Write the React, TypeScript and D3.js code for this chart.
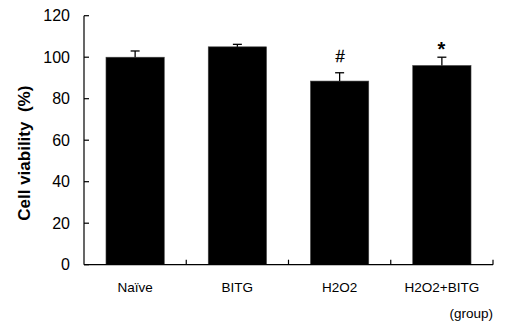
import React from "react";
import * as d3 from "d3";

const categories = ["Naïve", "BITG", "H2O2", "H2O2+BITG"];
const values = [100, 105, 88.5, 96];
const errors = [3, 1.2, 4, 4];
const marks = ["", "", "#", "*"];
const yTicks = [0, 20, 40, 60, 80, 100, 120];

const W = 512, H = 326;
const x0 = 84, x1 = 493, yTop = 15.7, yBot = 264.7;

export default function App() {
  const x = d3.scaleBand<string>().domain(categories).range([x0, x1]).paddingInner(0.43).paddingOuter(0.215);
  const bands = d3.scaleBand<string>().domain(categories).range([x0, x1]);
  const y = d3.scaleLinear().domain([0, 120]).range([yBot, yTop]);
  const font = "Arial, 'Liberation Sans', sans-serif";
  return (
    <svg width={W} height={H} style={{ position: "absolute", left: 0, top: 0, background: "#fff" }} fontFamily={font}>
      {categories.map((c, i) => {
        const bx = x(c)!;
        const bw = x.bandwidth();
        const cx = bx + bw / 2;
        const top = y(values[i]);
        const et = y(values[i] + errors[i]);
        const isStar = marks[i] === "*";
        return (
          <g key={c}>
            <rect x={bx} y={top} width={bw} height={yBot - top} fill="#000" stroke="#444" strokeWidth={0.6} />
            <line x1={cx} x2={cx} y1={top} y2={et} stroke="#000" strokeWidth={1.3} />
            <line x1={cx - 4.5} x2={cx + 4.5} y1={et} y2={et} stroke="#000" strokeWidth={1.3} />
            {marks[i] && (
              <text x={cx + (isStar ? -0.5 : 0.5)} y={isStar ? et - 1 : et - 10.5} textAnchor="middle" fontSize={isStar ? 20 : 16.5} fontWeight={isStar ? "bold" : "normal"} stroke={isStar ? "none" : "#000"} strokeWidth={0.3}>
                {marks[i]}
              </text>
            )}
            <text x={bands(c)! + bands.bandwidth() / 2} y={292} textAnchor="middle" fontSize={13.5}>{c}</text>
          </g>
        );
      })}
      <line x1={x0} x2={x0} y1={yTop} y2={yBot} stroke="#000" strokeWidth={1.2} />
      <line x1={x0} x2={x1} y1={yBot} y2={yBot} stroke="#000" strokeWidth={1.2} />
      {yTicks.map((t) => (
        <g key={t}>
          <line x1={x0} x2={x0 + 5} y1={y(t)} y2={y(t)} stroke="#000" strokeWidth={1.2} />
          <text x={70} y={y(t)} dy="0.36em" textAnchor="end" fontSize={16}>{t}</text>
        </g>
      ))}
      {categories.map((c) => {
        const bx = bands(c)! + bands.bandwidth();
        return <line key={"t" + c} x1={bx} x2={bx} y1={yBot} y2={yBot - 5} stroke="#000" strokeWidth={1.2} />;
      })}
      <text x={493} y={318} textAnchor="end" fontSize={13.5}>(group)</text>
      <text transform={`translate(30,${(yTop + yBot) / 2 + 13}) rotate(-90)`} textAnchor="middle" fontSize={17} fontWeight="bold" xmlSpace="preserve">
        {"Cell viability  (%)"}
      </text>
    </svg>
  );
}
